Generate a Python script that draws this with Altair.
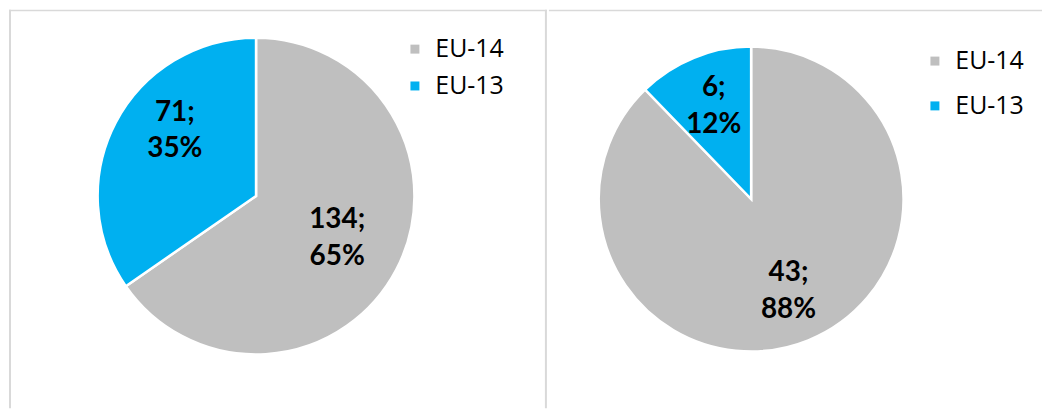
import altair as alt
import pandas as pd

regions = ["EU-14", "EU-13"]
left_values = [134, 71]
right_values = [43, 6]
slice_order = [0, 1]
colors = ["#BFBFBF", "#00B0F0"]
border_color = "#D9D9D9"


def pie_panel(values, width, height, cx, cy, r, label_r, label_dy, legend_x, legend_y, row_pad, borders):
    df = pd.DataFrame({"region": regions, "value": values, "order": slice_order})
    base = alt.Chart(df).transform_joinaggregate(total="sum(value)").transform_calculate(
        label="datum.value + ';\\n' + format(datum.value / datum.total, '.0%')"
    )
    color = alt.Color(
        "region:N",
        scale=alt.Scale(domain=regions, range=colors),
        sort=regions,
        legend=alt.Legend(
            orient="none",
            legendX=legend_x,
            legendY=legend_y,
            title=None,
            symbolType="square",
            symbolSize=81,
            symbolStrokeWidth=0,
            symbolOpacity=1,
            labelFontSize=25,
            labelFont="Open Sans",
            labelColor="#000000",
            labelOffset=8,
            rowPadding=row_pad,
            padding=0,
        ),
    )
    arcs = base.mark_arc(stroke="white", strokeWidth=2.5, radius=r).encode(
        theta=alt.Theta("value:Q", stack=True),
        order=alt.Order("order:Q"),
        color=color,
        x=alt.value(cx),
        y=alt.value(cy),
    )
    layers = [arcs]
    for reg, dy in zip(regions, label_dy):
        labels = base.mark_text(
            radius=label_r,
            font="Lato",
            fontSize=28,
            fontWeight="bold",
            color="#000000",
            lineBreak="\n",
            lineHeight=37,
            align="center",
            baseline="middle",
            dy=dy,
        ).encode(
            theta=alt.Theta("value:Q", stack=True),
            order=alt.Order("order:Q"),
            text=alt.condition(alt.datum.region == reg, "label:N", alt.value("")),
            x=alt.value(cx),
            y=alt.value(cy),
        )
        layers.append(labels)
    one = alt.Chart(pd.DataFrame({"k": [0]}))
    for b in borders:
        if b == "top":
            layers.append(one.mark_rule(color=border_color, strokeWidth=1.5).encode(
                x=alt.value(0), x2=alt.value(width), y=alt.value(0.75)))
        elif b == "left":
            layers.append(one.mark_rule(color=border_color, strokeWidth=2).encode(
                x=alt.value(1), y=alt.value(0), y2=alt.value(height)))
        elif b == "right":
            layers.append(one.mark_rule(color=border_color, strokeWidth=2).encode(
                x=alt.value(width - 1), y=alt.value(0), y2=alt.value(height)))
    return alt.layer(*layers).resolve_scale(theta="independent").properties(width=width, height=height)


left = pie_panel(left_values, 540, 400, 248, 187, 159, 92, [-18.5, -41], 395, 27, 11, ["top", "left", "right"])
right = pie_panel(right_values, 495, 400, 203, 190, 153, 100, [-18.5, -18.5], 375, 39, 19, ["top"])

chart = (
    alt.hconcat(left, right, spacing=0)
    .resolve_scale(color="independent", theta="independent")
    .resolve_legend(color="independent")
    .properties(padding=0, background="white")
    .configure_view(stroke=None)
)

chart.save("out.html", embed_options={"renderer": "svg", "actions": False})
